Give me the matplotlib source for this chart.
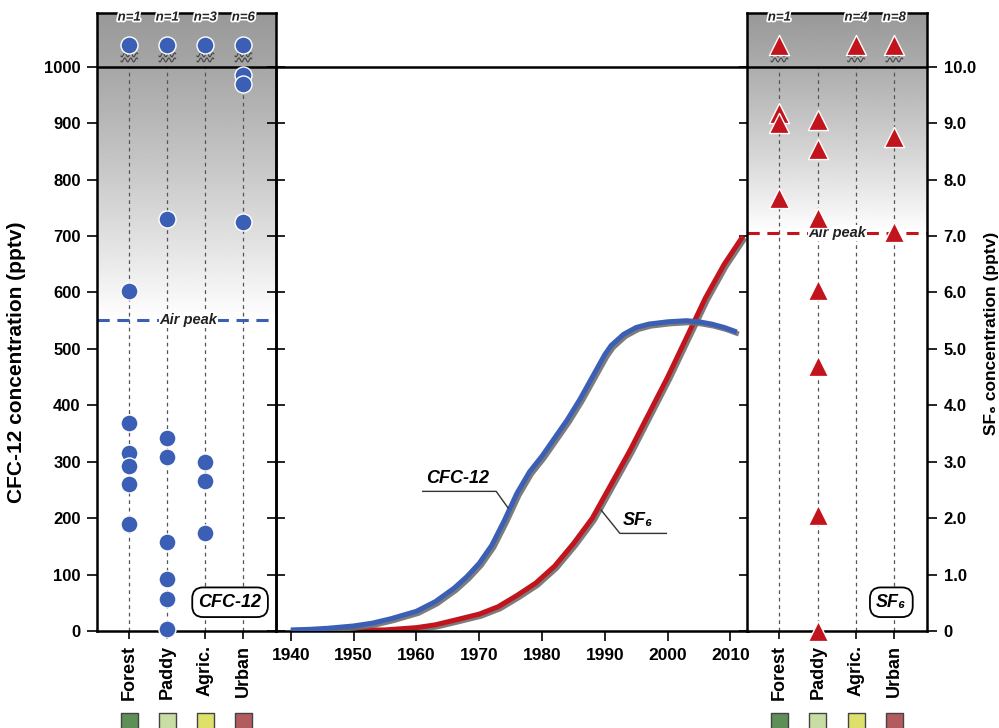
import numpy as np
import matplotlib
matplotlib.use("Agg")
import matplotlib.pyplot as plt
import matplotlib.patheffects as pe

plt.rcParams['font.family'] = ['Liberation Sans', 'DejaVu Sans']

# categories and colours
cats = ["Forest", "Paddy", "Agric.", "Urban"]
cat_colors = ["#5e8f56", "#c8dda6", "#dfe06b", "#b35c5f"]

# CFC-12 in soil air (pptv), per land use
cfc_forest = [603, 368, 315, 293, 260, 189]
cfc_paddy = [730, 342, 309, 158, 93, 56, 3]
cfc_agric = [300, 265, 173]
cfc_urban = [986, 970, 724]
cfc_over = [1, 1, 3, 6]          # samples above 1000 pptv
cfc_air_peak = 551

# SF6 in soil air (pptv), per land use
sf6_forest = [9.18, 9.0, 7.68]
sf6_paddy = [9.06, 8.55, 7.32, 6.05, 4.69, 2.06, 0.0]
sf6_agric = []
sf6_urban = [8.76, 7.07]
sf6_over = [1, 0, 4, 8]          # samples above 10 pptv
sf6_air_peak = 7.05

# atmospheric history
cfc_years = [1940, 1943, 1946, 1950, 1953, 1956, 1960, 1963, 1966, 1968, 1970, 1972,
             1974, 1976, 1978, 1980, 1982, 1984, 1986, 1988, 1990, 1991, 1993, 1995,
             1997, 2000, 2003, 2005, 2007, 2009, 2011]
cfc_atm = [2, 3, 5, 9, 14, 22, 35, 52, 76, 96, 120, 152,
           196, 244, 282, 310, 342, 374, 410, 450, 490, 506, 526, 538,
           544, 548, 550, 548, 544, 538, 530]
sf6_years = [1940, 1955, 1960, 1963, 1966, 1970, 1973, 1976, 1979, 1982, 1985, 1988,
             1991, 1994, 1997, 2000, 2003, 2006, 2009, 2012]
sf6_atm = [0.0, 0.02, 0.06, 0.11, 0.19, 0.3, 0.43, 0.63, 0.85, 1.15, 1.55, 2.0,
           2.6, 3.2, 3.85, 4.5, 5.2, 5.9, 6.5, 7.0]

blue = "#3a5fb4"
red = "#c1141d"

fig = plt.figure(figsize=(9.99, 7.28), dpi=100)
axL = fig.add_axes([0.0974, 0.1332, 0.1786, 0.8485])
axC = fig.add_axes([0.276, 0.1332, 0.4728, 0.7751])
axR = fig.add_axes([0.748, 0.1332, 0.1799, 0.8485])

xlo, xhi = -0.84, 3.85
cx = np.arange(len(cats))
wave_x = np.linspace(-0.22, 0.22, 40)


def panel(ax, groups, over, peak, scale, color, marker, msize, title, box_x, peak_x):
    top = 1094.6 * scale
    ax.set_xlim(xlo, xhi)
    ax.set_ylim(0, top)
    # grey gradient above the air peak
    t = np.linspace(0, 1, 256)[:, None]
    grad = 0.6 + 0.4 * t ** 1.15
    ax.imshow(grad, extent=[xlo, xhi, peak, top], aspect='auto', cmap='gray',
              vmin=0, vmax=1, zorder=0, interpolation='bilinear')
    for i in cx:
        ax.plot([i, i], [0, 1000 * scale], color='#555555', lw=0.9, ls=(0, (3, 3)), zorder=1)
    ax.axhline(1000 * scale, color='black', lw=1.8, zorder=2)
    ax.axhline(peak, color=color, lw=2.2, ls=(0, (4, 2.5)), zorder=2)
    ax.text(peak_x, peak, "Air peak", ha='center', va='center', fontsize=10.5,
            fontstyle='italic', fontweight='semibold', color='#222222', zorder=3,
            bbox=dict(fc='white', ec='none', pad=0.5))
    for i, vals in enumerate(groups):
        ax.scatter([i] * len(vals), vals, s=msize, marker=marker, color=color,
                   edgecolors='white', linewidths=1.0, zorder=4, clip_on=False)
    for i, n in enumerate(over):
        if n == 0:
            continue
        ax.scatter([i], [1039 * scale], s=msize, marker=marker, color=color,
                   edgecolors='white', linewidths=1.0, zorder=4)
        for yy in (1021, 1012):
            ax.plot(i + wave_x, (yy + 3.5 * np.sin(wave_x * 40)) * scale,
                    color='#444444', lw=0.8, zorder=3)
        ax.text(i, 1087 * scale, "n=%d" % n, ha='center', va='center', fontsize=9.5,
                fontweight='bold', fontstyle='italic', color='#222222', zorder=5,
                path_effects=[pe.withStroke(linewidth=2.5, foreground='white')])
    ax.text(box_x, 51 * scale, title, ha='center', va='center',
            fontsize=13, fontweight='bold', fontstyle='italic', zorder=5,
            bbox=dict(boxstyle='round,pad=0.35,rounding_size=0.6', fc='white',
                      ec='black', lw=1.3))
    ax.set_xticks(cx)
    ax.set_xticklabels(cats, rotation=90, fontsize=13, fontweight='bold')
    ax.tick_params(axis='x', direction='out', length=6, width=1.2, pad=4)
    ax.scatter(cx, [-160 * scale] * 4, marker='s', s=150, c=cat_colors,
               edgecolors='#444444', linewidths=1.0, clip_on=False)
    for s in ax.spines.values():
        s.set_linewidth(1.8)


panel(axL, [cfc_forest, cfc_paddy, cfc_agric, cfc_urban], cfc_over, cfc_air_peak,
      1.0, blue, 'o', 150, "CFC-12", 2.65, 1.56)
panel(axR, [sf6_forest, sf6_paddy, sf6_agric, sf6_urban], sf6_over, sf6_air_peak,
      0.01, red, '^', 210, "SF₆", 2.92, 1.52)

# left / right y axes
axL.set_yticks(np.arange(0, 1001, 100))
axL.set_yticklabels([str(v) for v in range(0, 1001, 100)], fontsize=12, fontweight='bold')
axL.tick_params(axis='y', direction='out', length=7, width=1.2, pad=5)
axL.set_ylabel("CFC-12 concentration (pptv)", fontsize=15, fontweight='bold')
axL.yaxis.set_label_coords(-0.40, 0.435)

axR.yaxis.tick_right()
axR.yaxis.set_label_position('right')
r_ticks = np.arange(0, 10.01, 1.0)
axR.set_yticks(r_ticks)
axR.set_yticklabels(["0"] + ["%.1f" % v for v in r_ticks[1:]], fontsize=12, fontweight='bold')
axR.tick_params(axis='y', direction='out', length=7, width=1.2, pad=5)
axR.set_ylabel("SF₆ concentration (pptv)", fontsize=12.5, fontweight='bold', rotation=90)
axR.yaxis.set_label_coords(1.32, 0.482)

# centre: atmospheric history
axC.set_xlim(1937.6, 2012.8)
axC.set_ylim(0, 1000)
axC.patch.set_alpha(0)
shadow = [pe.SimpleLineShadow(offset=(1.5, -1.5), shadow_color='#6e6e6e', alpha=0.9), pe.Normal()]
axC.plot(cfc_years, cfc_atm, color=blue, lw=3.6, solid_capstyle='butt',
         solid_joinstyle='round', path_effects=shadow, zorder=3)
axC.plot(sf6_years, np.array(sf6_atm) * 100, color=red, lw=3.6, solid_capstyle='butt',
         solid_joinstyle='round', path_effects=shadow, zorder=2)
axC.set_xticks(np.arange(1940, 2011, 10))
axC.set_xticklabels([str(y) for y in range(1940, 2011, 10)], fontsize=12.5, fontweight='bold')
axC.tick_params(axis='x', direction='out', length=7, width=1.2, pad=5)
axC.set_yticks(np.arange(0, 1001, 100))
axC.tick_params(axis='y', direction='inout', length=13, width=1.2, left=True, right=True,
                labelleft=False, labelright=False)
for s in axC.spines.values():
    s.set_linewidth(1.8)

axC.text(1966.6, 271, "CFC-12", ha='center', va='center', fontsize=13, fontweight='bold',
         fontstyle='italic')
axC.plot([1961.0, 1972.7, 1974.6], [247.5, 247.5, 218], color='#333333', lw=1.0, zorder=4)
axC.text(1995.2, 195, "SF₆", ha='center', va='center', fontsize=13, fontweight='bold',
         fontstyle='italic')
axC.plot([1999.8, 1992.4, 1989.4], [173, 173, 214.5], color='#333333', lw=1.0, zorder=4)

fig.savefig("out.png", dpi=100)
